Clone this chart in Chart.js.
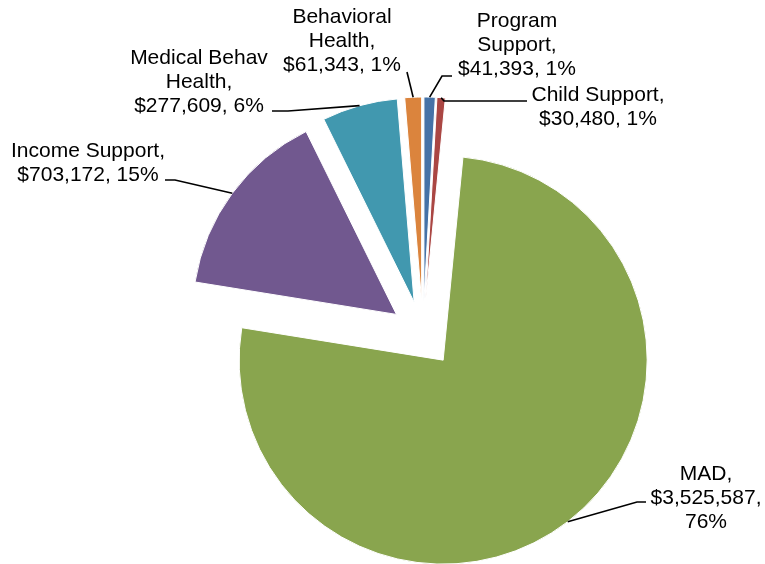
<!DOCTYPE html>
<html>
<head>
<meta charset="utf-8">
<title>Budget by Program</title>
<script src="https://cdn.jsdelivr.net/npm/chart.js@4.4.1/dist/chart.umd.min.js"></script>
<style>
  html, body { margin: 0; padding: 0; background: #fff; }
  canvas { display: block; }
</style>
</head>
<body>
<canvas id="myChart" width="765" height="564"></canvas>
<script>
// slices go clockwise from 12 o'clock in this order
const categories = ['Program\nSupport', 'Child Support', 'MAD', 'Income Support', 'Medical Behav\nHealth', 'Behavioral\nHealth'];
const amounts = [41393, 30480, 3525587, 703172, 277609, 61343];
const colors = ['#4572A7', '#AA4643', '#89A54E', '#71588F', '#4198AF', '#DB843D'];

const EXPLODE = 33;   // every slice pulled out by the same distance
const RADIUS = 204;

// where each label sits: center x, first baseline, leader line points (arc end is added in code)
const labelLayout = [
  { x: 517, y: 27,  leader: [[442, 76], [452, 76]] },
  { x: 598, y: 101, leader: [[444, 101], [527, 101]] },
  { x: 706, y: 480, leader: [[637, 502], [646, 502]], splitPct: true },
  { x: 88,  y: 157, leader: [[175, 180], [165, 180]] },
  { x: 199, y: 64,  leader: [[288, 111], [272, 111]] },
  { x: 342, y: 23,  leader: [[407, 72]] }
];

// pie whose arcs are each shifted outward along their middle angle
class ExplodedArc extends Chart.ArcElement {
  draw(ctx) {
    const mid = (this.startAngle + this.endAngle) / 2;
    ctx.save();
    ctx.translate(Math.cos(mid) * EXPLODE, Math.sin(mid) * EXPLODE);
    super.draw(ctx);
    ctx.restore();
  }
}
ExplodedArc.id = 'explodedArc';

class ExplodedPie extends Chart.PieController {}
ExplodedPie.id = 'explodedPie';
ExplodedPie.defaults = { dataElementType: 'explodedArc' };

Chart.register(ExplodedArc, ExplodedPie);

const total = amounts.reduce((a, b) => a + b, 0);

const labelText = (i) => {
  const name = categories[i].split('\n');
  name[name.length - 1] += ',';
  const money = '$' + amounts[i].toLocaleString('en-US');
  const pct = Math.round(amounts[i] / total * 100) + '%';
  if (labelLayout[i].splitPct) return name.concat([money + ',', pct]);
  return name.concat([money + ', ' + pct]);
};

const sliceLabels = {
  id: 'sliceLabels',
  afterDatasetsDraw(chart) {
    const ctx = chart.ctx;
    const arcs = chart.getDatasetMeta(0).data;
    ctx.save();
    arcs.forEach((arc, i) => {
      const lay = labelLayout[i];
      const mid = (arc.startAngle + arc.endAngle) / 2;
      const reach = EXPLODE + arc.outerRadius;
      const px = arc.x + Math.cos(mid) * reach;
      const py = arc.y + Math.sin(mid) * reach;

      ctx.beginPath();
      ctx.moveTo(px, py);
      lay.leader.forEach(p => ctx.lineTo(p[0], p[1]));
      ctx.strokeStyle = '#000';
      ctx.lineWidth = 1.6;
      ctx.stroke();

      ctx.fillStyle = '#000';
      ctx.font = '21px "Liberation Sans", Arial, sans-serif';
      ctx.textAlign = 'center';
      ctx.textBaseline = 'alphabetic';
      labelText(i).forEach((line, k) => {
        ctx.fillText(line, lay.x, lay.y + k * 24);
      });
    });
    ctx.restore();
  }
};

const data = {
  labels: categories,
  datasets: [{
    data: amounts,
    backgroundColor: colors,
    borderColor: '#fff',
    borderWidth: 1,
    radius: RADIUS
  }]
};

const config = {
  type: 'explodedPie',
  data: data,
  options: {
    responsive: false,
    animation: false,
    rotation: 0,
    layout: {
      padding: { left: 81, top: 104, right: 0, bottom: 0 }
    },
    plugins: {
      legend: { display: false },
      tooltip: { enabled: false }
    }
  },
  plugins: [sliceLabels]
};

const myChart = new Chart(document.getElementById('myChart'), config);
</script>
</body>
</html>
